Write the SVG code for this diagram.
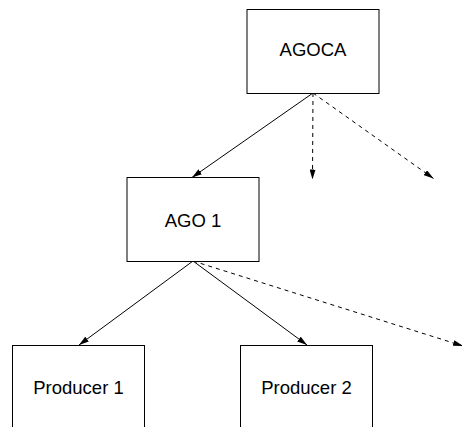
<svg xmlns="http://www.w3.org/2000/svg" width="462" height="427" viewBox="0 0 462 427">
  <style>
    .box { fill: #ffffff; stroke: #000000; stroke-width: 1; }
    .label { font-family: "Liberation Sans", Arial, sans-serif; font-size: 18.5px; fill: #000000; text-anchor: middle; }
    .edge { stroke: #000000; stroke-width: 1; fill: none; marker-end: url(#arrow); }
    .dashed { stroke-dasharray: 4 4; }
  </style>
  <defs>
    <marker id="arrow" viewBox="0 0 10 6" refX="10" refY="3" markerWidth="10" markerHeight="6" markerUnits="userSpaceOnUse" orient="auto">
      <path d="M0,0 L10,3 L0,6 Z" fill="#000000"/>
    </marker>
  </defs>
  <rect width="462" height="427" fill="#ffffff"/>

  <g id="connectors">
    <line class="edge" x1="313" y1="93" x2="192" y2="177.5"/>
    <line class="edge dashed" x1="313" y1="93" x2="312.5" y2="179.5"/>
    <line class="edge dashed" x1="313" y1="93" x2="433.5" y2="178.5"/>
    <line class="edge" x1="193" y1="261" x2="79" y2="345"/>
    <line class="edge" x1="193" y1="261" x2="307" y2="345"/>
    <line class="edge dashed" x1="193" y1="261" x2="463" y2="346"/>
  </g>

  <g id="agoca">
    <rect class="box" x="247" y="9.5" width="132" height="84"/>
    <text class="label" x="313" y="56">AGOCA</text>
  </g>

  <g id="ago1">
    <rect class="box" x="127" y="177.5" width="132" height="84"/>
    <text class="label" x="193" y="226.5">AGO 1</text>
  </g>

  <g id="producer1">
    <rect class="box" x="12.5" y="345.5" width="132" height="100"/>
    <text class="label" x="78.5" y="394">Producer 1</text>
  </g>

  <g id="producer2">
    <rect class="box" x="240.5" y="345.5" width="132" height="100"/>
    <text class="label" x="306.5" y="394">Producer 2</text>
  </g>
</svg>
